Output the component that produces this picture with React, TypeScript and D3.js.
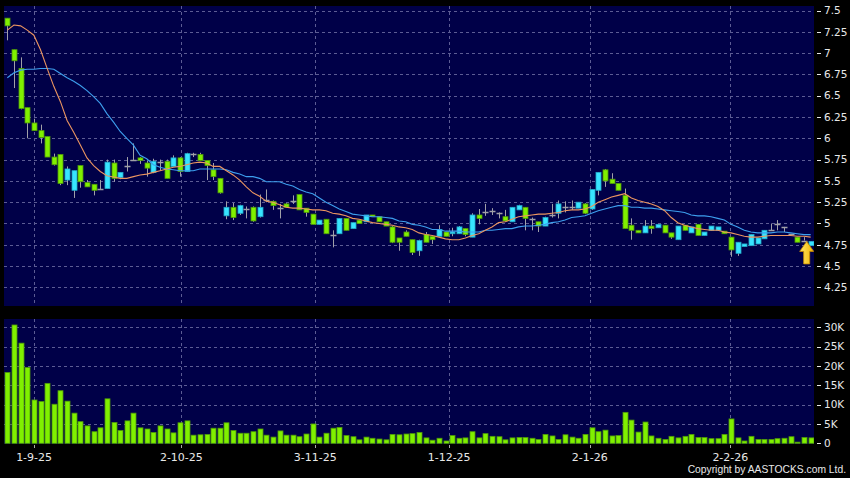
import React from "react";
import * as d3 from "d3";

// ---- Data ----
const opens = [7.41,7.04,6.82,6.36,6.18,6.09,6.02,5.78,5.81,5.51,5.39,5.68,5.48,5.46,5.40,5.41,5.71,5.54,5.68,5.75,5.77,5.71,5.60,5.72,5.73,5.67,5.77,5.61,5.82,5.81,5.74,5.63,5.53,5.09,5.19,5.12,5.17,5.19,5.08,5.28,5.26,5.18,5.23,5.26,5.34,5.18,5.11,4.99,5.05,4.87,4.88,5.06,4.94,5.04,5.02,5.10,5.08,5.02,4.96,4.83,4.90,4.81,4.68,4.87,4.85,4.85,4.90,4.88,4.88,4.94,4.84,5.10,5.13,5.15,5.12,5.08,5.02,5.16,5.19,5.05,5.02,4.97,5.10,5.12,5.19,5.19,5.18,5.23,5.17,5.39,5.63,5.52,5.47,5.33,4.98,4.92,4.89,4.97,4.95,4.98,4.89,4.81,4.98,4.89,4.99,4.86,4.92,4.92,4.91,4.84,4.65,4.73,4.74,4.76,4.82,4.92,4.99,4.96,4.88,4.84,4.80,4.74];
const highs = [7.41,7.04,6.95,6.36,6.23,6.16,6.02,5.82,5.81,5.67,5.62,5.68,5.51,5.46,5.51,5.75,5.75,5.60,5.78,5.94,5.78,5.74,5.76,5.75,5.75,5.80,5.78,5.83,5.83,5.83,5.74,5.71,5.53,5.26,5.24,5.22,5.20,5.20,5.34,5.40,5.27,5.23,5.24,5.33,5.34,5.18,5.11,5.04,5.05,4.92,5.06,5.06,5.01,5.04,5.10,5.10,5.08,5.02,4.97,4.83,4.92,4.81,4.81,4.90,4.85,4.98,4.90,4.95,4.97,4.94,5.12,5.17,5.23,5.18,5.13,5.16,5.19,5.22,5.19,5.07,5.02,5.08,5.23,5.27,5.26,5.27,5.25,5.24,5.40,5.60,5.64,5.59,5.47,5.41,5.06,4.92,5.04,5.04,4.99,4.98,4.89,4.97,4.98,4.96,4.99,4.90,4.97,4.96,4.91,4.84,4.78,4.76,4.87,4.83,4.92,5.00,5.04,4.96,4.88,4.84,4.84,4.79];
const lows = [7.15,6.59,6.34,6.00,6.09,5.94,5.78,5.68,5.45,5.45,5.30,5.42,5.43,5.33,5.40,5.41,5.49,5.52,5.61,5.74,5.70,5.55,5.59,5.62,5.53,5.67,5.55,5.61,5.78,5.74,5.51,5.51,5.35,5.05,5.04,5.10,5.06,5.02,5.07,5.25,5.16,5.06,5.19,5.23,5.16,5.08,4.99,4.99,4.88,4.72,4.88,4.92,4.94,5.00,5.02,5.08,5.02,4.97,4.77,4.68,4.85,4.63,4.62,4.78,4.76,4.85,4.85,4.85,4.88,4.85,4.84,4.99,5.09,5.10,5.06,5.03,5.02,5.16,4.92,4.92,4.90,4.97,5.07,5.06,5.13,5.16,5.18,5.11,5.16,5.33,5.43,5.47,5.39,4.94,4.81,4.89,4.89,4.88,4.95,4.89,4.82,4.81,4.92,4.89,4.86,4.86,4.92,4.92,4.88,4.61,4.62,4.73,4.74,4.76,4.82,4.92,4.92,4.90,4.88,4.78,4.80,4.74];
const closes = [7.32,6.91,6.35,6.18,6.09,6.01,5.78,5.69,5.47,5.64,5.62,5.49,5.43,5.39,5.40,5.72,5.53,5.60,5.68,5.75,5.74,5.65,5.73,5.72,5.53,5.77,5.61,5.82,5.82,5.74,5.68,5.55,5.36,5.19,5.07,5.21,5.17,5.03,5.19,5.28,5.21,5.18,5.19,5.26,5.16,5.13,4.99,5.04,4.88,4.87,5.06,4.92,5.01,5.00,5.10,5.08,5.02,4.97,4.78,4.78,4.85,4.66,4.80,4.78,4.81,4.93,4.85,4.90,4.96,4.87,5.10,5.06,5.13,5.15,5.12,5.03,5.19,5.21,5.06,5.05,4.97,5.07,5.10,5.23,5.19,5.19,5.25,5.12,5.40,5.60,5.50,5.47,5.39,4.94,4.92,4.89,4.97,4.94,4.99,4.89,4.84,4.97,4.92,4.96,4.86,4.90,4.97,4.96,4.88,4.69,4.78,4.76,4.87,4.83,4.92,4.92,4.99,4.96,4.88,4.78,4.80,4.79];
const volumesK = [18.3,30.6,25.9,19.6,11.2,10.8,15.5,10.1,13.6,10.9,7.8,5.6,4.5,3.0,4.0,11.5,5.4,3.3,5.8,7.8,4.0,3.7,2.8,4.5,3.7,2.7,5.3,5.8,2.1,2.2,2.3,3.9,3.9,5.3,3.3,2.6,2.6,3.0,3.7,2.1,1.6,3.2,2.1,2.1,1.7,2.4,5.0,1.6,2.6,3.9,4.1,2.0,1.7,0.9,1.6,1.3,1.1,0.9,2.3,2.2,2.4,2.5,2.8,1.4,0.8,1.3,0.6,2.0,1.3,1.4,3.0,1.4,2.5,1.8,1.7,0.9,1.4,1.5,1.5,1.3,1.0,2.3,1.9,1.0,2.2,1.6,1.3,2.3,4.0,3.0,3.4,1.9,2.0,8.0,6.0,2.9,5.5,1.9,1.3,1.0,1.8,1.4,1.8,2.3,1.5,1.5,1.2,1.2,2.3,6.3,1.4,0.6,1.8,1.0,1.0,1.0,1.2,1.3,1.7,0.3,1.5,1.4];
const maShort = [7.27,7.33,7.32,7.27,7.21,7.04,6.82,6.61,6.43,6.21,6.07,5.92,5.77,5.68,5.61,5.56,5.545,5.53,5.53,5.55,5.57,5.58,5.60,5.62,5.64,5.66,5.67,5.69,5.71,5.72,5.71,5.67,5.67,5.62,5.57,5.51,5.43,5.36,5.32,5.26,5.25,5.22,5.19,5.18,5.18,5.17,5.16,5.16,5.15,5.12,5.11,5.09,5.06,5.05,5.03,5.01,5.00,4.99,4.98,4.96,4.95,4.93,4.89,4.87,4.86,4.84,4.82,4.81,4.81,4.83,4.86,4.88,4.92,4.96,5.01,5.02,5.05,5.08,5.09,5.10,5.11,5.11,5.12,5.13,5.15,5.16,5.16,5.17,5.20,5.25,5.28,5.31,5.33,5.35,5.30,5.27,5.25,5.23,5.20,5.15,5.07,5.01,4.98,4.96,4.94,4.93,4.92,4.92,4.90,4.89,4.87,4.85,4.84,4.84,4.85,4.86,4.86,4.86,4.86,4.85,4.85,4.84];
const maLong = [6.71,6.77,6.80,6.81,6.81,6.82,6.82,6.81,6.76,6.71,6.67,6.62,6.56,6.49,6.41,6.29,6.19,6.08,6.00,5.92,5.80,5.76,5.69,5.66,5.64,5.63,5.62,5.62,5.62,5.64,5.64,5.64,5.64,5.63,5.60,5.58,5.55,5.55,5.53,5.49,5.49,5.49,5.46,5.44,5.40,5.37,5.35,5.30,5.25,5.21,5.17,5.14,5.11,5.10,5.09,5.08,5.08,5.07,5.06,5.03,5.02,4.99,4.98,4.96,4.93,4.93,4.91,4.91,4.91,4.90,4.90,4.90,4.92,4.92,4.93,4.94,4.94,4.96,4.97,4.97,4.98,4.99,5.01,5.02,5.04,5.07,5.08,5.09,5.12,5.15,5.17,5.19,5.21,5.21,5.19,5.19,5.18,5.18,5.17,5.16,5.15,5.14,5.13,5.10,5.09,5.09,5.08,5.06,5.04,4.99,4.96,4.92,4.90,4.89,4.89,4.89,4.90,4.90,4.89,4.88,4.87,4.87];
const dateTickIndex = [4, 26, 46, 66, 87, 108];
const dateTickLabels = ["1-9-25", "2-10-25", "3-11-25", "1-12-25", "2-1-26", "2-2-26"];
const priceTicks = [4.25, 4.5, 4.75, 5, 5.25, 5.5, 5.75, 6, 6.25, 6.5, 6.75, 7, 7.25, 7.5];
const volumeTicks = [0, 5, 10, 15, 20, 25, 30];

// ---- Styles ----
const BG = "#000000";
const PANEL = "#000048";
const GRID = "#5c5c94";
const UP = "#38e4ff";
const UP_EDGE = "#20a8c8";
const DOWN = "#80f000";
const DOWN_EDGE = "#4e9a08";
const WICK = "#a0a0a8";
const TXT = "#e8e8e8";
const FONT = "'DejaVu Sans', Verdana, sans-serif";

const PL = 4, PR = 814;
const P_TOP = 6, P_BOT = 306;
const V_TOP = 319, V_BOT = 444;

export default function App() {
  const N = closes.length;
  const x = d3.scaleBand<number>().domain(d3.range(N)).range([PL, PR]);
  const bw = x.bandwidth();
  const cx = (i: number) => (x(i) as number) + bw / 2;
  const tickX = d3.scaleLinear().domain([0, N - 2]).range([cx(0), cx(N - 1)]);
  const yP = d3.scaleLinear().domain([4.25, 7.5]).range([287.4, 10.5]);
  const yV = d3.scaleLinear().domain([0, 30]).range([443.3, 327.3]);
  const bodyW = 5;

  const line = (arr: number[]) =>
    d3.line<number>().x((_, i) => cx(i)).y((d) => yP(d)).curve(d3.curveLinear)(arr) || "";

  const lastI = N - 1;
  const ax = cx(lastI) - 4;
  const ay = yP(closes[lastI]);
  const arrow = `M${ax},${ay} L${ax + 7},${ay + 10} L${ax + 3},${ay + 10} L${ax + 3},${ay + 22.5} L${ax - 3},${ay + 22.5} L${ax - 3},${ay + 10} L${ax - 7},${ay + 10} Z`;

  return (
    <>
      <style>{`html,body{margin:0;padding:0;background:#000;}`}</style>
      <svg width={850} height={478} style={{ display: "block", background: BG }} fontFamily={FONT}>
        <defs>
          <clipPath id="pclip"><rect x={PL} y={P_TOP} width={PR - PL} height={P_BOT - P_TOP} /></clipPath>
          <clipPath id="vclip"><rect x={PL} y={V_TOP} width={PR - PL} height={V_BOT - V_TOP} /></clipPath>
          <linearGradient id="arrowG" x1="0" x2="1" y1="0" y2="0">
            <stop offset="0" stopColor="#ffe866" />
            <stop offset="1" stopColor="#f2b400" />
          </linearGradient>
        </defs>
        <rect x={0} y={0} width={850} height={478} fill={BG} />
        {/* Price panel */}
        <rect x={PL} y={P_TOP} width={PR - PL} height={P_BOT - P_TOP} fill={PANEL} />
        {priceTicks.map((v) => (
          <line key={"pg" + v} x1={PL} x2={PR} y1={Math.round(yP(v)) + 0.5} y2={Math.round(yP(v)) + 0.5}
            stroke={GRID} strokeDasharray="3,3" strokeWidth={1} />
        ))}
        {dateTickIndex.map((t, k) => (
          <line key={"pv" + k} x1={Math.round(tickX(t)) + 0.5} x2={Math.round(tickX(t)) + 0.5} y1={P_TOP} y2={P_BOT}
            stroke={GRID} strokeDasharray="3,3" strokeWidth={1} />
        ))}
        <g clipPath="url(#pclip)">
          {closes.map((c, i) => {
            const o = opens[i];
            const xc = Math.round(cx(i)) + 0.5;
            const doji = o === c;
            const up = c > o;
            const top = yP(Math.max(o, c));
            const bot = yP(Math.min(o, c));
            return (
              <g key={"c" + i}>
                <line x1={xc} x2={xc} y1={yP(highs[i])} y2={yP(lows[i])} stroke={WICK} strokeWidth={1} />
                {doji ? (
                  <line x1={xc - bodyW / 2 - 0.5} x2={xc + bodyW / 2 + 0.5} y1={Math.round(yP(o)) + 0.5} y2={Math.round(yP(o)) + 0.5} stroke={WICK} strokeWidth={1.5} />
                ) : (
                  <rect x={xc - bodyW / 2} y={top} width={bodyW} height={Math.max(1.5, bot - top)}
                    fill={up ? UP : DOWN} stroke={up ? UP_EDGE : DOWN_EDGE} strokeWidth={0.8} />
                )}
              </g>
            );
          })}
          <path d={line(maLong)} fill="none" stroke="#3d9fee" strokeWidth={1.1} />
          <path d={line(maShort)} fill="none" stroke="#eb9560" strokeWidth={1.1} />
          <path d={arrow} fill="url(#arrowG)" stroke="#c98a00" strokeWidth={0.8} />
        </g>
        {priceTicks.map((v) => (
          <g key={"pl" + v}>
            <line x1={817} x2={821} y1={Math.round(yP(v)) + 0.5} y2={Math.round(yP(v)) + 0.5} stroke={TXT} strokeWidth={1} />
            <text x={824} y={yP(v)} dy="0.36em" fontSize={10.5} fill={TXT}>{String(v)}</text>
          </g>
        ))}

        {/* Volume panel */}
        <rect x={PL} y={V_TOP} width={PR - PL} height={V_BOT - V_TOP} fill={PANEL} />
        {volumeTicks.filter((v) => v > 0).map((v) => (
          <line key={"vg" + v} x1={PL} x2={PR} y1={Math.round(yV(v)) + 0.5} y2={Math.round(yV(v)) + 0.5}
            stroke={GRID} strokeDasharray="3,3" strokeWidth={1} />
        ))}
        {dateTickIndex.map((t, k) => (
          <line key={"vv" + k} x1={Math.round(tickX(t)) + 0.5} x2={Math.round(tickX(t)) + 0.5} y1={V_TOP} y2={V_BOT}
            stroke={GRID} strokeDasharray="3,3" strokeWidth={1} />
        ))}
        <g clipPath="url(#vclip)">
          {volumesK.map((v, i) => (
            <rect key={"v" + i} x={Math.round(cx(i)) + 0.5 - bodyW / 2} y={yV(v)} width={bodyW} height={yV(0) - yV(v)}
              fill={DOWN} stroke={DOWN_EDGE} strokeWidth={0.8} />
          ))}
        </g>
        {volumeTicks.map((v) => (
          <g key={"vl" + v}>
            <line x1={817} x2={821} y1={Math.round(yV(v)) + 0.5} y2={Math.round(yV(v)) + 0.5} stroke={TXT} strokeWidth={1} />
            <text x={824} y={yV(v)} dy="0.36em" fontSize={10.5} fill={TXT}>{v === 0 ? "0" : `${v}K`}</text>
          </g>
        ))}

        {/* Date axis */}
        {dateTickIndex.map((t, k) => (
          <g key={"dt" + k}>
            <line x1={Math.round(tickX(t)) + 0.5} x2={Math.round(tickX(t)) + 0.5} y1={445} y2={448} stroke="#aaaaaa" strokeWidth={1} />
            <text x={tickX(t)} y={460.5} textAnchor="middle" fontSize={11} fill={TXT}>{dateTickLabels[k]}</text>
          </g>
        ))}
        <text x={846} y={473} textAnchor="end" fontSize={10.3} fill={TXT} fontFamily="'Liberation Sans', Arial, sans-serif">
          Copyright by AASTOCKS.com Ltd.
        </text>
      </svg>
    </>
  );
}
